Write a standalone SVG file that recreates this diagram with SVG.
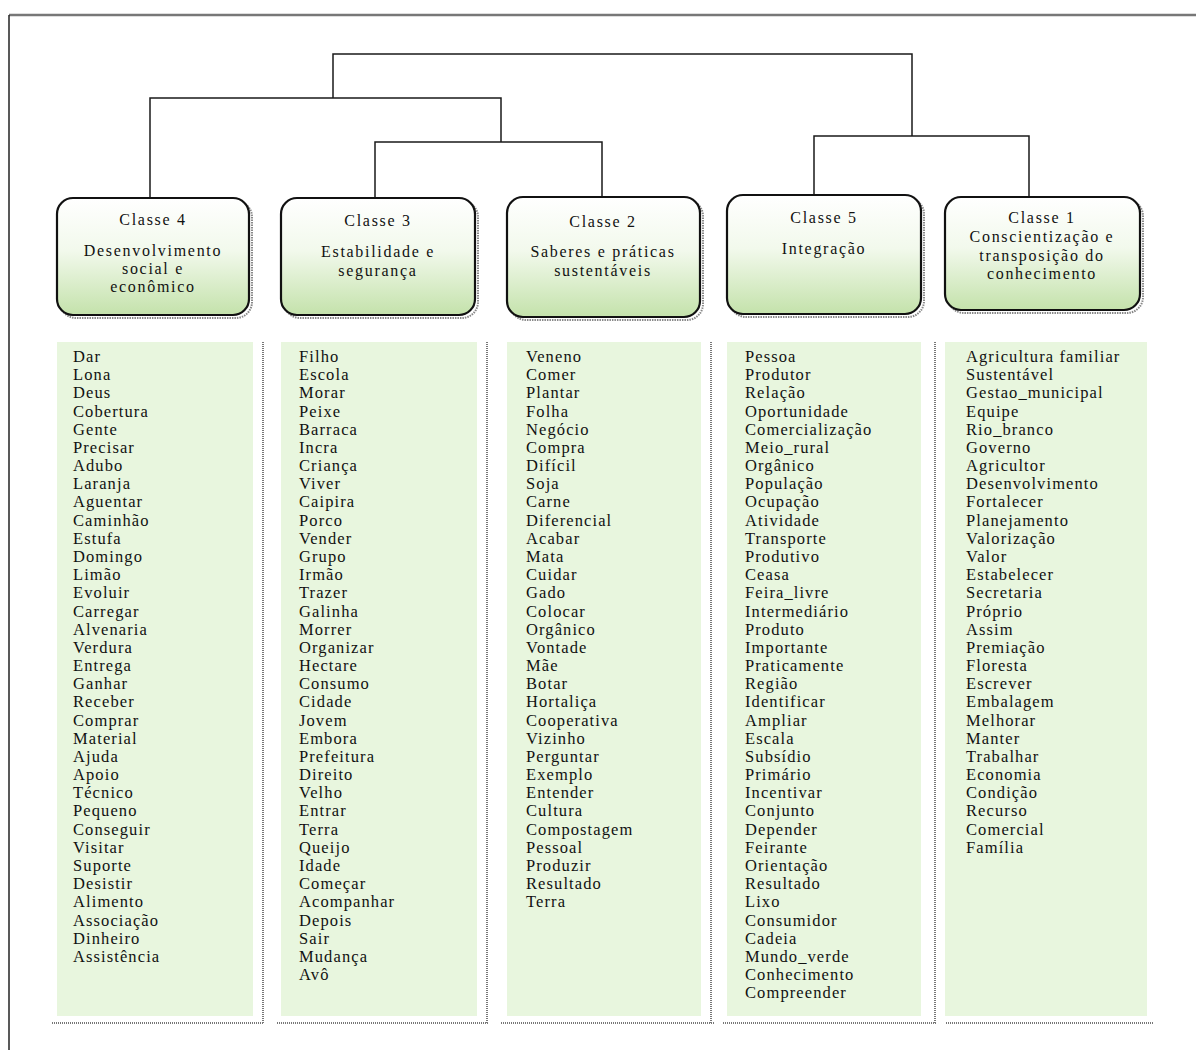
<svg xmlns="http://www.w3.org/2000/svg" width="1196" height="1050" viewBox="0 0 1196 1050">
<style>
.frame{fill:none}
.link{stroke:#1a1a1a;stroke-width:1.5;fill:none}
.box{stroke:#111;stroke-width:2.2;fill:url(#g)}
.shadow{fill:none;stroke:#888;stroke-width:2;stroke-dasharray:1.5 1}
.col{fill:#e8f6de}
.dot{stroke:#777;stroke-width:2;stroke-dasharray:1 1;fill:none}
.h{font-family:'Liberation Serif',serif;font-size:16px;letter-spacing:1.7px;fill:#111;text-anchor:middle}
.w{font-family:'Liberation Serif',serif;font-size:16.5px;letter-spacing:1.1px;fill:#111}
</style>
<defs>
<linearGradient id="g" x1="0" y1="0" x2="0" y2="1">
<stop offset="0" stop-color="#ffffff"/>
<stop offset="0.45" stop-color="#f2f9ec"/>
<stop offset="1" stop-color="#c4e2ab"/>
</linearGradient>
</defs>
<rect width="1196" height="1050" fill="#fff"/>
<line class="frame" x1="9" y1="15" x2="1196" y2="15" stroke-width="2.5" stroke="#777"/>
<line class="frame" x1="9" y1="15" x2="9" y2="1050" stroke-width="1.5" stroke="#222"/>
<g id="connectors">
<path class="link" d="M333 98 V54 H912 V136"/>
<path class="link" d="M150 198 V98 H501 V142"/>
<path class="link" d="M375 198 V142 H602 V198"/>
<path class="link" d="M814 197 V136 H1029 V197"/>
</g>
<g id="classe4" font-family="Liberation Serif, serif">
<rect class="shadow" x="60" y="201" width="192" height="117" rx="16"/>
<rect class="box" x="57" y="198" width="192" height="117" rx="16"/>
<text class="h" x="153" y="225">Classe 4</text>
<text class="h" x="153" y="256">Desenvolvimento</text>
<text class="h" x="153" y="274">social e</text>
<text class="h" x="153" y="292">econômico</text>
</g>
<g id="classe3" font-family="Liberation Serif, serif">
<rect class="shadow" x="284" y="201" width="194" height="117" rx="16"/>
<rect class="box" x="281" y="198" width="194" height="117" rx="16"/>
<text class="h" x="378" y="226">Classe 3</text>
<text class="h" x="378" y="257">Estabilidade e</text>
<text class="h" x="378" y="276">segurança</text>
</g>
<g id="classe2" font-family="Liberation Serif, serif">
<rect class="shadow" x="510" y="200" width="193" height="120" rx="16"/>
<rect class="box" x="507" y="197" width="193" height="120" rx="16"/>
<text class="h" x="603" y="227">Classe 2</text>
<text class="h" x="603" y="257">Saberes e práticas</text>
<text class="h" x="603" y="276">sustentáveis</text>
</g>
<g id="classe5" font-family="Liberation Serif, serif">
<rect class="shadow" x="730" y="198" width="194" height="119" rx="16"/>
<rect class="box" x="727" y="195" width="194" height="119" rx="16"/>
<text class="h" x="824" y="223">Classe 5</text>
<text class="h" x="824" y="254">Integração</text>
</g>
<g id="classe1" font-family="Liberation Serif, serif">
<rect class="shadow" x="948" y="200" width="195" height="113" rx="16"/>
<rect class="box" x="945" y="197" width="195" height="113" rx="16"/>
<text class="h" x="1042" y="223">Classe 1</text>
<text class="h" x="1042" y="242">Conscientização e</text>
<text class="h" x="1042" y="261">transposição do</text>
<text class="h" x="1042" y="279">conhecimento</text>
</g>
<g id="lista4">
<rect class="col" x="57" y="342" width="196" height="674"/>
<path class="dot" d="M263 342 V1023 M52 1023 H263"/>
<text class="w" x="73" y="362"><tspan x="73">Dar</tspan><tspan x="73" dy="18.18">Lona</tspan><tspan x="73" dy="18.18">Deus</tspan><tspan x="73" dy="18.18">Cobertura</tspan><tspan x="73" dy="18.18">Gente</tspan><tspan x="73" dy="18.18">Precisar</tspan><tspan x="73" dy="18.18">Adubo</tspan><tspan x="73" dy="18.18">Laranja</tspan><tspan x="73" dy="18.18">Aguentar</tspan><tspan x="73" dy="18.18">Caminhão</tspan><tspan x="73" dy="18.18">Estufa</tspan><tspan x="73" dy="18.18">Domingo</tspan><tspan x="73" dy="18.18">Limão</tspan><tspan x="73" dy="18.18">Evoluir</tspan><tspan x="73" dy="18.18">Carregar</tspan><tspan x="73" dy="18.18">Alvenaria</tspan><tspan x="73" dy="18.18">Verdura</tspan><tspan x="73" dy="18.18">Entrega</tspan><tspan x="73" dy="18.18">Ganhar</tspan><tspan x="73" dy="18.18">Receber</tspan><tspan x="73" dy="18.18">Comprar</tspan><tspan x="73" dy="18.18">Material</tspan><tspan x="73" dy="18.18">Ajuda</tspan><tspan x="73" dy="18.18">Apoio</tspan><tspan x="73" dy="18.18">Técnico</tspan><tspan x="73" dy="18.18">Pequeno</tspan><tspan x="73" dy="18.18">Conseguir</tspan><tspan x="73" dy="18.18">Visitar</tspan><tspan x="73" dy="18.18">Suporte</tspan><tspan x="73" dy="18.18">Desistir</tspan><tspan x="73" dy="18.18">Alimento</tspan><tspan x="73" dy="18.18">Associação</tspan><tspan x="73" dy="18.18">Dinheiro</tspan><tspan x="73" dy="18.18">Assistência</tspan></text>
</g>
<g id="lista3">
<rect class="col" x="281" y="342" width="196" height="674"/>
<path class="dot" d="M487 342 V1023 M277 1023 H488"/>
<text class="w" x="299" y="362"><tspan x="299">Filho</tspan><tspan x="299" dy="18.18">Escola</tspan><tspan x="299" dy="18.18">Morar</tspan><tspan x="299" dy="18.18">Peixe</tspan><tspan x="299" dy="18.18">Barraca</tspan><tspan x="299" dy="18.18">Incra</tspan><tspan x="299" dy="18.18">Criança</tspan><tspan x="299" dy="18.18">Viver</tspan><tspan x="299" dy="18.18">Caipira</tspan><tspan x="299" dy="18.18">Porco</tspan><tspan x="299" dy="18.18">Vender</tspan><tspan x="299" dy="18.18">Grupo</tspan><tspan x="299" dy="18.18">Irmão</tspan><tspan x="299" dy="18.18">Trazer</tspan><tspan x="299" dy="18.18">Galinha</tspan><tspan x="299" dy="18.18">Morrer</tspan><tspan x="299" dy="18.18">Organizar</tspan><tspan x="299" dy="18.18">Hectare</tspan><tspan x="299" dy="18.18">Consumo</tspan><tspan x="299" dy="18.18">Cidade</tspan><tspan x="299" dy="18.18">Jovem</tspan><tspan x="299" dy="18.18">Embora</tspan><tspan x="299" dy="18.18">Prefeitura</tspan><tspan x="299" dy="18.18">Direito</tspan><tspan x="299" dy="18.18">Velho</tspan><tspan x="299" dy="18.18">Entrar</tspan><tspan x="299" dy="18.18">Terra</tspan><tspan x="299" dy="18.18">Queijo</tspan><tspan x="299" dy="18.18">Idade</tspan><tspan x="299" dy="18.18">Começar</tspan><tspan x="299" dy="18.18">Acompanhar</tspan><tspan x="299" dy="18.18">Depois</tspan><tspan x="299" dy="18.18">Sair</tspan><tspan x="299" dy="18.18">Mudança</tspan><tspan x="299" dy="18.18">Avô</tspan></text>
</g>
<g id="lista2">
<rect class="col" x="507" y="342" width="194" height="674"/>
<path class="dot" d="M711 342 V1023 M501 1023 H714"/>
<text class="w" x="526" y="362"><tspan x="526">Veneno</tspan><tspan x="526" dy="18.18">Comer</tspan><tspan x="526" dy="18.18">Plantar</tspan><tspan x="526" dy="18.18">Folha</tspan><tspan x="526" dy="18.18">Negócio</tspan><tspan x="526" dy="18.18">Compra</tspan><tspan x="526" dy="18.18">Difícil</tspan><tspan x="526" dy="18.18">Soja</tspan><tspan x="526" dy="18.18">Carne</tspan><tspan x="526" dy="18.18">Diferencial</tspan><tspan x="526" dy="18.18">Acabar</tspan><tspan x="526" dy="18.18">Mata</tspan><tspan x="526" dy="18.18">Cuidar</tspan><tspan x="526" dy="18.18">Gado</tspan><tspan x="526" dy="18.18">Colocar</tspan><tspan x="526" dy="18.18">Orgânico</tspan><tspan x="526" dy="18.18">Vontade</tspan><tspan x="526" dy="18.18">Mãe</tspan><tspan x="526" dy="18.18">Botar</tspan><tspan x="526" dy="18.18">Hortaliça</tspan><tspan x="526" dy="18.18">Cooperativa</tspan><tspan x="526" dy="18.18">Vizinho</tspan><tspan x="526" dy="18.18">Perguntar</tspan><tspan x="526" dy="18.18">Exemplo</tspan><tspan x="526" dy="18.18">Entender</tspan><tspan x="526" dy="18.18">Cultura</tspan><tspan x="526" dy="18.18">Compostagem</tspan><tspan x="526" dy="18.18">Pessoal</tspan><tspan x="526" dy="18.18">Produzir</tspan><tspan x="526" dy="18.18">Resultado</tspan><tspan x="526" dy="18.18">Terra</tspan></text>
</g>
<g id="lista5">
<rect class="col" x="727" y="342" width="194" height="674"/>
<path class="dot" d="M935 342 V1023 M723 1023 H936"/>
<text class="w" x="745" y="362"><tspan x="745">Pessoa</tspan><tspan x="745" dy="18.18">Produtor</tspan><tspan x="745" dy="18.18">Relação</tspan><tspan x="745" dy="18.18">Oportunidade</tspan><tspan x="745" dy="18.18">Comercialização</tspan><tspan x="745" dy="18.18">Meio_rural</tspan><tspan x="745" dy="18.18">Orgânico</tspan><tspan x="745" dy="18.18">População</tspan><tspan x="745" dy="18.18">Ocupação</tspan><tspan x="745" dy="18.18">Atividade</tspan><tspan x="745" dy="18.18">Transporte</tspan><tspan x="745" dy="18.18">Produtivo</tspan><tspan x="745" dy="18.18">Ceasa</tspan><tspan x="745" dy="18.18">Feira_livre</tspan><tspan x="745" dy="18.18">Intermediário</tspan><tspan x="745" dy="18.18">Produto</tspan><tspan x="745" dy="18.18">Importante</tspan><tspan x="745" dy="18.18">Praticamente</tspan><tspan x="745" dy="18.18">Região</tspan><tspan x="745" dy="18.18">Identificar</tspan><tspan x="745" dy="18.18">Ampliar</tspan><tspan x="745" dy="18.18">Escala</tspan><tspan x="745" dy="18.18">Subsídio</tspan><tspan x="745" dy="18.18">Primário</tspan><tspan x="745" dy="18.18">Incentivar</tspan><tspan x="745" dy="18.18">Conjunto</tspan><tspan x="745" dy="18.18">Depender</tspan><tspan x="745" dy="18.18">Feirante</tspan><tspan x="745" dy="18.18">Orientação</tspan><tspan x="745" dy="18.18">Resultado</tspan><tspan x="745" dy="18.18">Lixo</tspan><tspan x="745" dy="18.18">Consumidor</tspan><tspan x="745" dy="18.18">Cadeia</tspan><tspan x="745" dy="18.18">Mundo_verde</tspan><tspan x="745" dy="18.18">Conhecimento</tspan><tspan x="745" dy="18.18">Compreender</tspan></text>
</g>
<g id="lista1">
<rect class="col" x="945" y="342" width="202" height="674"/>
<path class="dot" d="M946 1023 H1153"/>
<text class="w" x="966" y="362"><tspan x="966">Agricultura familiar</tspan><tspan x="966" dy="18.18">Sustentável</tspan><tspan x="966" dy="18.18">Gestao_municipal</tspan><tspan x="966" dy="18.18">Equipe</tspan><tspan x="966" dy="18.18">Rio_branco</tspan><tspan x="966" dy="18.18">Governo</tspan><tspan x="966" dy="18.18">Agricultor</tspan><tspan x="966" dy="18.18">Desenvolvimento</tspan><tspan x="966" dy="18.18">Fortalecer</tspan><tspan x="966" dy="18.18">Planejamento</tspan><tspan x="966" dy="18.18">Valorização</tspan><tspan x="966" dy="18.18">Valor</tspan><tspan x="966" dy="18.18">Estabelecer</tspan><tspan x="966" dy="18.18">Secretaria</tspan><tspan x="966" dy="18.18">Próprio</tspan><tspan x="966" dy="18.18">Assim</tspan><tspan x="966" dy="18.18">Premiação</tspan><tspan x="966" dy="18.18">Floresta</tspan><tspan x="966" dy="18.18">Escrever</tspan><tspan x="966" dy="18.18">Embalagem</tspan><tspan x="966" dy="18.18">Melhorar</tspan><tspan x="966" dy="18.18">Manter</tspan><tspan x="966" dy="18.18">Trabalhar</tspan><tspan x="966" dy="18.18">Economia</tspan><tspan x="966" dy="18.18">Condição</tspan><tspan x="966" dy="18.18">Recurso</tspan><tspan x="966" dy="18.18">Comercial</tspan><tspan x="966" dy="18.18">Família</tspan></text>
</g>
</svg>
